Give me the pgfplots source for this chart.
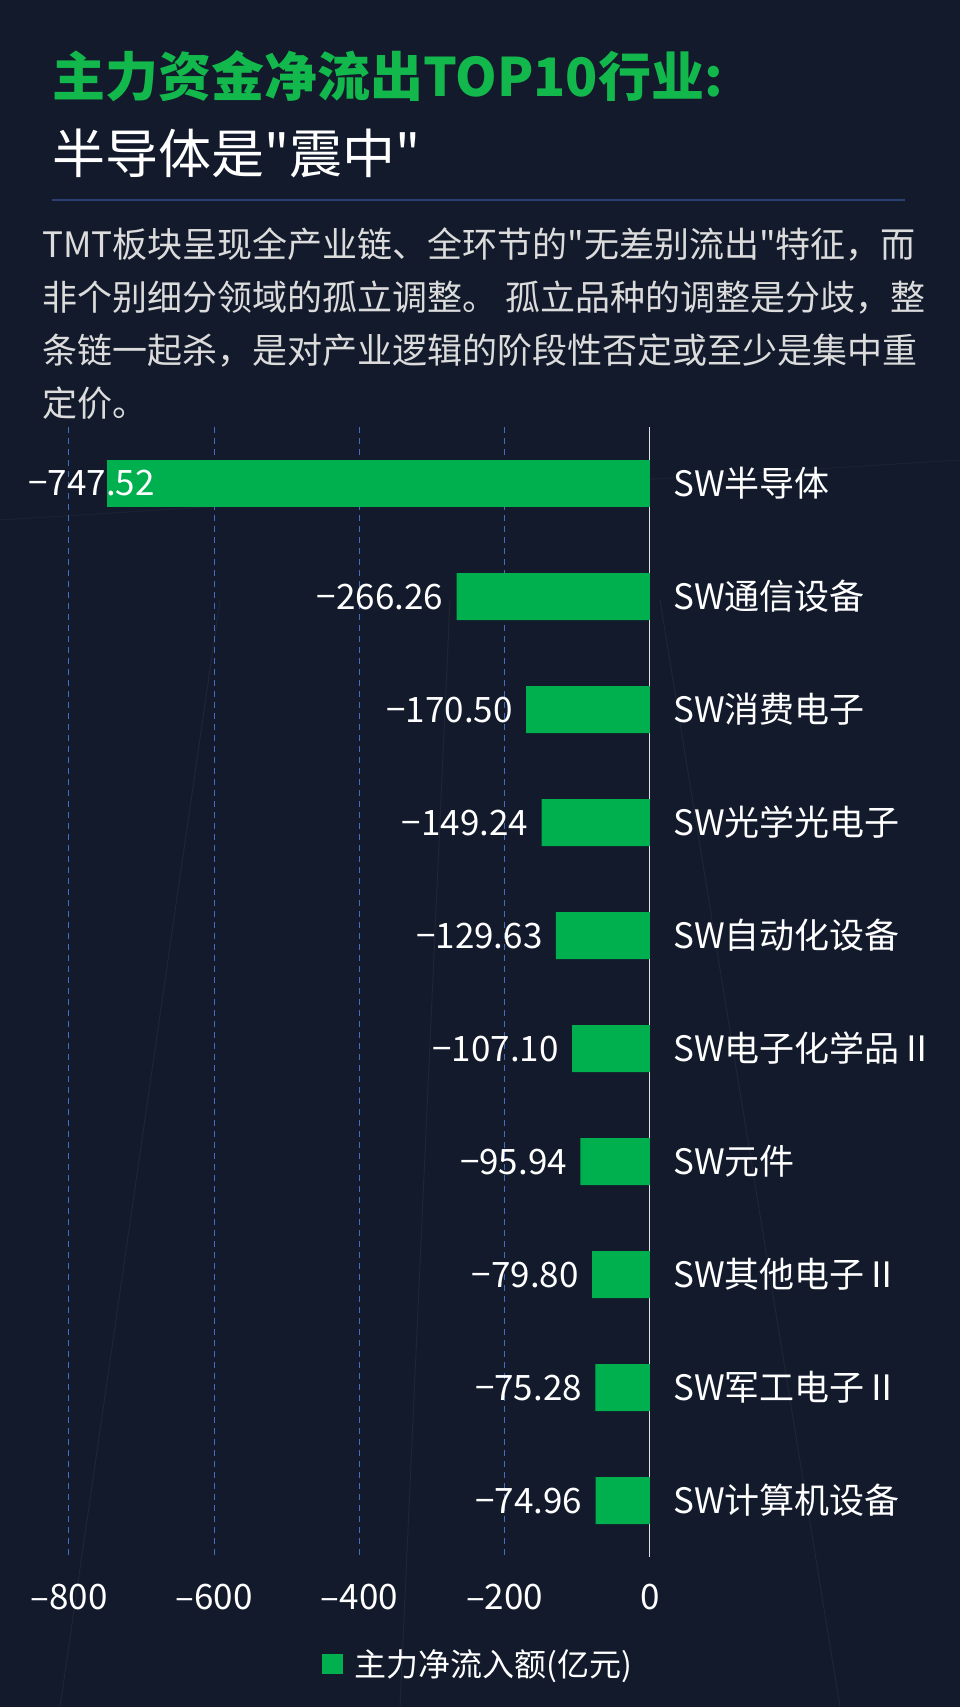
\documentclass[border=0pt]{standalone}
\usepackage{fontspec}
\setmainfont{Noto Sans CJK SC}[Ligatures=TeXOff]
\usepackage{pgfplots}
\pgfplotsset{compat=1.18}
\usepackage{pgfplotstable}

\definecolor{bg}{HTML}{121A2B}
\definecolor{barg}{HTML}{00B04F}
\definecolor{titleg}{HTML}{13B84C}
\definecolor{gridb}{HTML}{3F6FC4}
\definecolor{sepline}{HTML}{2C3F73}
\definecolor{para}{HTML}{DCDCDC}

% main net outflow, 100 million yuan
\pgfplotstableread[col sep=comma]{
idx,val,lab,cat
0,-747.52,−747.52,SW半导体
1,-266.26,−266.26,SW通信设备
2,-170.50,−170.50,SW消费电子
3,-149.24,−149.24,SW光学光电子
4,-129.63,−129.63,SW自动化设备
5,-107.10,−107.10,SW电子化学品Ⅱ
6,-95.94,−95.94,SW元件
7,-79.80,−79.80,SW其他电子Ⅱ
8,-75.28,−75.28,SW军工电子Ⅱ
9,-74.96,−74.96,SW计算机设备
}\flows

\newcommand\fs[1]{\fontsize{#1}{1.2\dimexpr#1\relax}\selectfont}

\begin{document}
\begin{tikzpicture}
\fill[bg] (0,0) rectangle (480pt,-853.5pt);
\useasboundingbox (0,0) rectangle (480pt,-853.5pt);

% faint backdrop lines
\draw[white, opacity=0.05, line width=0.5pt] (30pt,-853.5pt) -- (110pt,-300pt);
\draw[white, opacity=0.05, line width=0.5pt] (200pt,-853.5pt) -- (225pt,-300pt);
\draw[white, opacity=0.05, line width=0.5pt] (420pt,-853.5pt) -- (330pt,-300pt);
\draw[white, opacity=0.04, line width=0.5pt] (0pt,-260pt) -- (480pt,-230pt);

\node[anchor=base west, inner sep=0pt, text=titleg, font=\fs{26.5pt}\bfseries]
  at (26pt,-48.5pt) {主力资金净流出TOP10行业:};
\node[anchor=base west, inner sep=0pt, text=white, font=\fs{26.5pt}]
  at (26pt,-86.5pt) {半导体是"震中"};
\draw[sepline, line width=0.8pt] (26pt,-100pt) -- (452.5pt,-100pt);

\begin{scope}[every node/.style={anchor=base west, inner sep=0pt, text=para, font=\fs{17.5pt}}]
\node at (21pt,-128.5pt) {TMT板块呈现全产业链、全环节的"无差别流出"特征，而};
\node at (21pt,-155pt) {非个别细分领域的孤立调整。 孤立品种的调整是分歧，整};
\node at (21pt,-181.5pt) {条链一起杀，是对产业逻辑的阶段性否定或至少是集中重};
\node at (21pt,-208pt) {定价。};
\end{scope}

\begin{axis}[
  at={(34.5pt,-213.5pt)}, anchor=north west,
  scale only axis, width=290.5pt, height=565pt,
  xbar, bar width=23.5pt, bar shift=0pt,
  xmin=-800, xmax=0, ymin=-0.5, ymax=9.5, y dir=reverse,
  axis line style={draw=none}, major tick length=0pt,
  xtick={-800,-600,-400,-200}, xticklabels={–800,–600,–400,–200},
  extra x ticks={0}, extra x tick labels={0},
  extra x tick style={grid style={solid, draw=white!75!gray, line width=0.5pt, dash pattern=}},
  xmajorgrids, grid style={draw=gridb, line width=0.5pt, dash pattern=on 3pt off 2.5pt},
  xticklabel style={anchor=center, yshift=-20pt, text=white, font=\fs{17.5pt}},
  ytick={0,...,9}, yticklabels from table={\flows}{cat},
  yticklabel pos=right,
  yticklabel style={anchor=west, inner sep=0pt, xshift=11.5pt, text=white, font=\fs{17.5pt}},
  point meta=explicit symbolic,
  nodes near coords,
  every node near coord/.append style={anchor=east, inner sep=0pt, xshift=-6.5pt, text=white, font=\fs{17.5pt}},
  legend style={at={(0.712,-0.0947)}, anchor=center, draw=none, fill=none,
    text=white, font=\fs{16pt}, inner sep=0pt,
    nodes={inner xsep=5.5pt}},
  legend image code/.code={\fill[barg] (0pt,-5pt) rectangle (10.5pt,5pt);},
]
\addplot[fill=barg, draw=none,
  every node near coord/.append style={xshift=30.5pt}]
  table[x=val, y=idx, meta=lab, skip coords between index={1}{10}] {\flows};
\addlegendentry{主力净流入额(亿元)}
\addplot[fill=barg, draw=none, forget plot]
  table[x=val, y=idx, meta=lab, skip coords between index={0}{1}] {\flows};
\end{axis}
\end{tikzpicture}
\end{document}
